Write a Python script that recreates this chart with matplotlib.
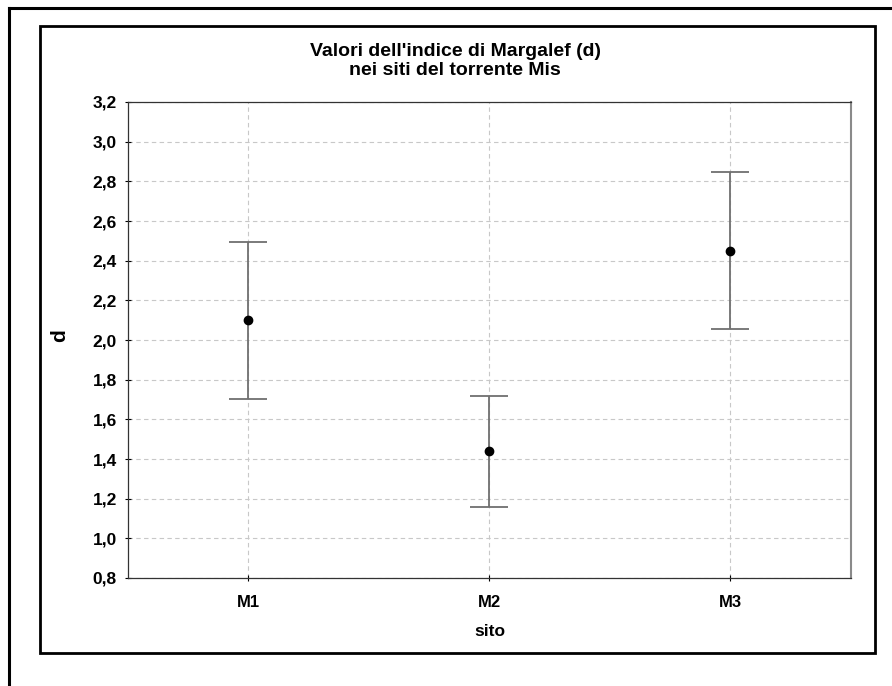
import matplotlib.pyplot as plt
from matplotlib.lines import Line2D
from matplotlib.patches import Rectangle
from matplotlib.ticker import FuncFormatter

siti = ['M1', 'M2', 'M3']
media = [2.10, 1.44, 2.45]
err_sup = [0.395, 0.28, 0.395]
err_inf = [0.395, 0.28, 0.395]
y_ticks = [0.8, 1.0, 1.2, 1.4, 1.6, 1.8, 2.0, 2.2, 2.4, 2.6, 2.8, 3.0, 3.2]

plt.rcParams['font.family'] = ['Liberation Sans', 'DejaVu Sans']

W, H = 892, 686
fig = plt.figure(figsize=(W / 100, H / 100), dpi=100)

# cornici esterne
fig.add_artist(Line2D([9 / W, 9 / W], [0, 1 - 8 / H], color='black', lw=2.2))
fig.add_artist(Line2D([9 / W, 1], [1 - 8 / H, 1 - 8 / H], color='black', lw=2.2))
fig.add_artist(Rectangle((40 / W, 1 - 653 / H), (875 - 40) / W, (653 - 26) / H,
                         fill=False, ec='black', lw=2.0))

ax = fig.add_axes([128 / W, 1 - 578 / H, (851 - 128) / W, (578 - 102) / H])
x = list(range(1, len(siti) + 1))
ax.errorbar(x, media, yerr=[err_inf, err_sup], fmt='o', color='black', ms=6,
            ecolor='#707070', elinewidth=1.3, capsize=14, capthick=1.3, zorder=3)

ax.set_xlim(0.5, 3.5)
ax.set_ylim(0.8, 3.2)
ax.set_xticks(x)
ax.set_xticklabels(siti)
ax.set_yticks(y_ticks)
ax.yaxis.set_major_formatter(FuncFormatter(lambda v, p: f'{v:.1f}'.replace('.', ',')))
ax.grid(True, ls=(0, (4, 3)), color='#c8c8c8', lw=0.8)
ax.tick_params(direction='inout', length=4, width=0.8, labelsize=12.5, pad=6)
ax.tick_params(axis='x', labelsize=12, pad=10)
for lab in ax.get_xticklabels() + ax.get_yticklabels():
    lab.set_fontweight('bold')
for s in ax.spines.values():
    s.set_linewidth(0.9)
    s.set_color('#333333')
ax.spines['right'].set_color('#8a8a8a')
ax.spines['right'].set_linewidth(1.5)

ax.set_xlabel('sito', fontsize=12.5, fontweight='bold', labelpad=10)
ax.set_ylabel('d', fontsize=15, fontweight='bold')
ax.yaxis.set_label_coords(-0.082, 0.51)

fig.text(455 / W, 1 - 61 / H, "Valori dell'indice di Margalef (d)\nnei siti del torrente Mis",
         ha='center', va='center', fontsize=14, fontweight='heavy', linespacing=1.12)

fig.savefig('out.png', dpi=100)
